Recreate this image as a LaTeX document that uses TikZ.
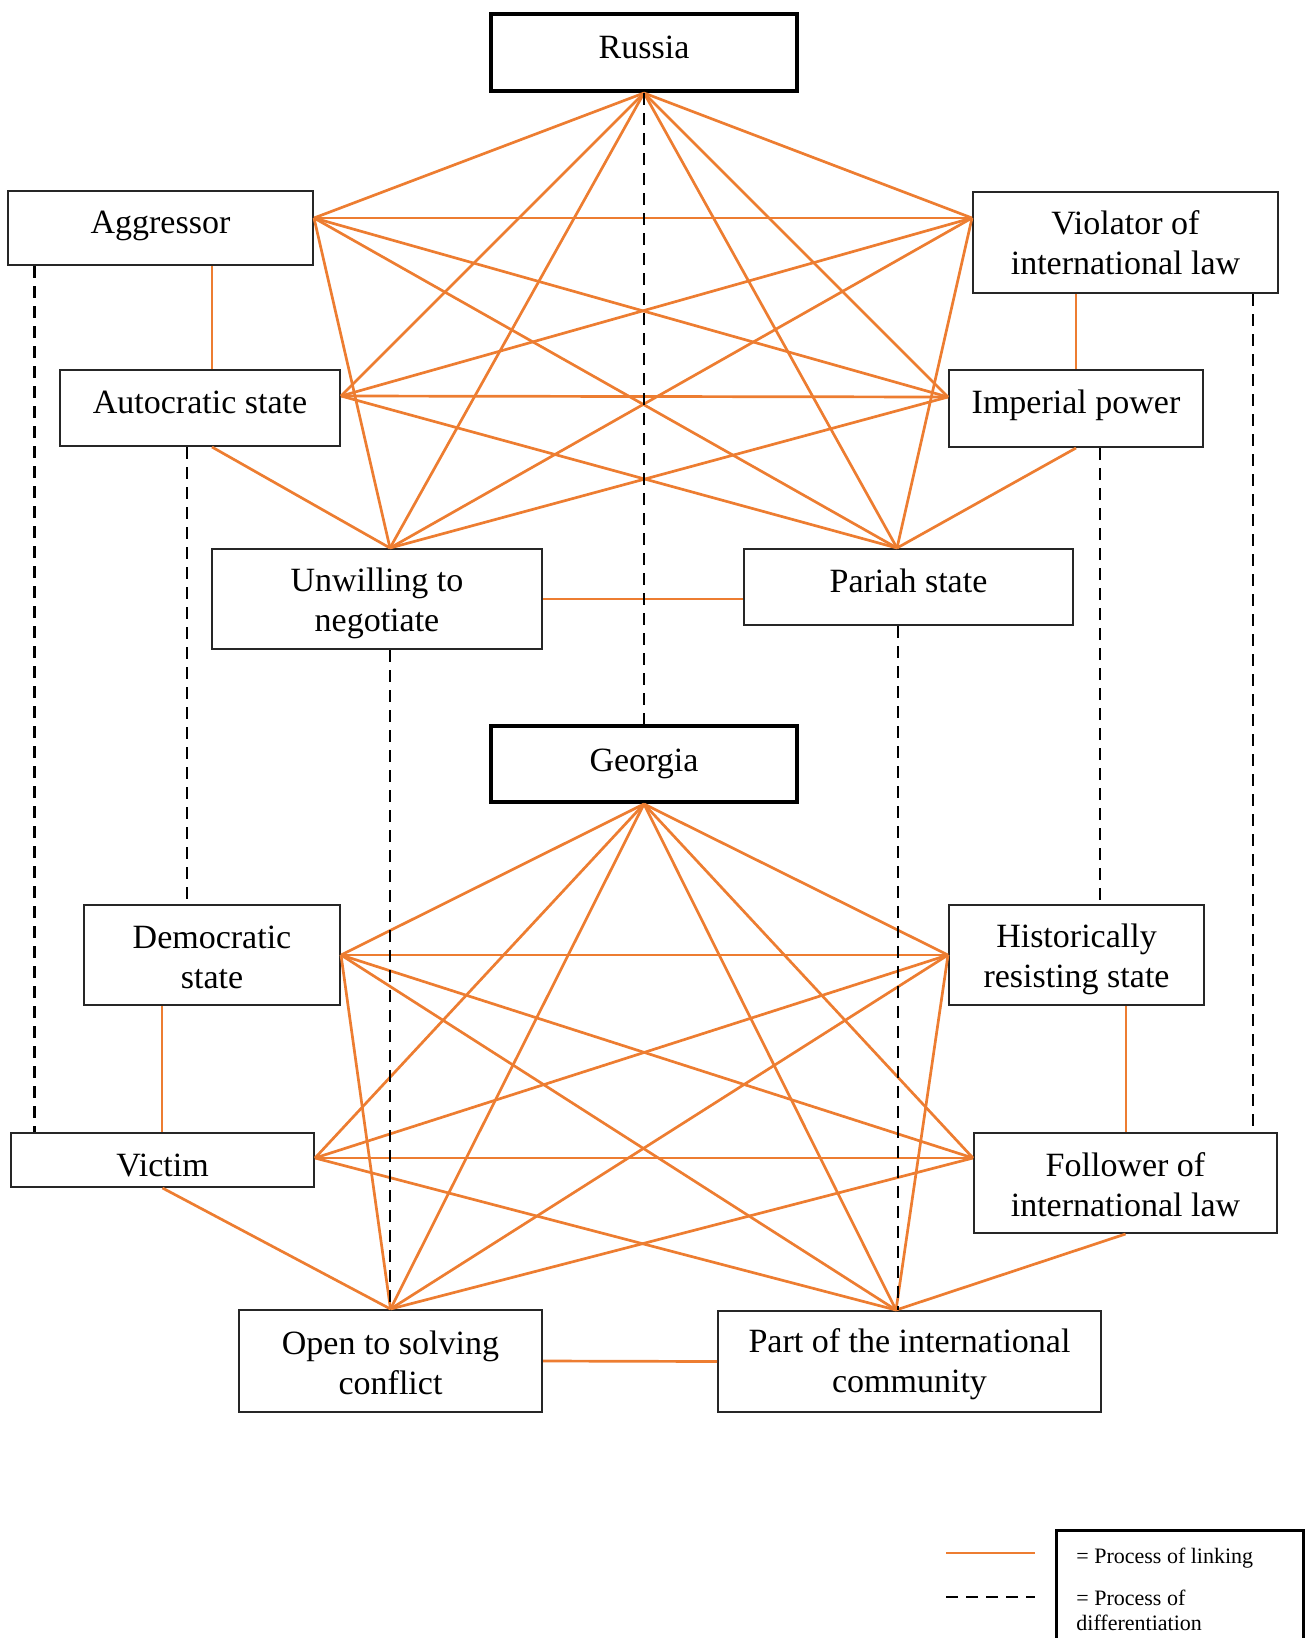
\documentclass[tikz,border=0pt]{standalone}
\usepackage{fontspec}
\setmainfont{Liberation Serif}
\usetikzlibrary{calc}
\definecolor{lnk}{HTML}{ED7D31}
\begin{document}
\begin{tikzpicture}[x=0.5pt,y=-0.5pt,
  box/.style={draw=black!85, line width=1pt, inner sep=0pt},
  thickbox/.style={box, draw=black, line width=2pt},
  txt/.style={inner sep=0pt, align=center, font=\fontsize{17}{20}\selectfont},
  link/.style={draw=lnk, line width=1.35pt},
  diff/.style={draw=black, line width=1.4pt, dash pattern=on 6pt off 4pt},
  legtext/.style={anchor=base west, inner sep=0pt, font=\fontsize{11}{12.5}\selectfont, align=left}
]
\useasboundingbox (0,0) rectangle (1306,1638);

% ---------- Russia cluster ----------
\node[thickbox, minimum width=153pt, minimum height=38.5pt] (R) at (644,52.5) {};
\node[box, minimum width=152.5pt, minimum height=37pt] (Ag) at (160.5,228) {};
\node[box, minimum width=152.5pt, minimum height=50.5pt] (Vi) at (1125.5,242.5) {};
\node[box, minimum width=140pt, minimum height=38pt] (Au) at (200,408) {};
\node[box, minimum width=127pt, minimum height=38.5pt] (Im) at (1076,408.5) {};
\node[box, minimum width=165pt, minimum height=50pt] (Un) at (377,599) {};
\node[box, minimum width=164.5pt, minimum height=38pt] (Pa) at (908.5,587) {};

% ---------- Georgia cluster ----------
\node[thickbox, minimum width=153pt, minimum height=38pt] (Ge) at (644,764) {};
\node[box, minimum width=128pt, minimum height=50pt] (De) at (212,955) {};
\node[box, minimum width=127.5pt, minimum height=50pt] (Hi) at (1076.5,955) {};
\node[box, minimum width=151.5pt, minimum height=27pt] (Vc) at (162.5,1160) {};
\node[box, minimum width=151.5pt, minimum height=50pt] (Fo) at (1125.5,1183) {};
\node[box, minimum width=151.5pt, minimum height=51pt] (Op) at (390.5,1361) {};
\node[box, minimum width=191.5pt, minimum height=50.5pt] (Pt) at (909.5,1361.5) {};

% ---------- texts ----------
\node[txt, yshift=2.6pt] (Rt) at (R) {Russia};
\node[txt, yshift=1pt] (Agt) at (Ag) {Aggressor};
\node[txt] (Vit) at (Vi) {Violator of\\international law};
\node[txt, yshift=2.6pt] (Aut) at (Au) {Autocratic state};
\node[txt, yshift=1.6pt] (Imt) at (Im) {Imperial power};
\node[txt, yshift=-2pt] (Unt) at (Un) {Unwilling to\\negotiate};
\node[txt, yshift=3pt] (Pat) at (Pa) {Pariah state};
\node[txt] (Get) at (Ge) {Georgia};
\node[txt, yshift=-1pt] (Det) at (De) {Democratic\\state};
\node[txt, yshift=-2pt] (Hit) at (Hi) {Historically\\resisting state};
\node[txt, yshift=-2.6pt] (Vct) at (Vc) {Victim};
\node[txt, yshift=-1pt] (Fot) at (Fo) {Follower of\\international law};
\node[txt, yshift=-1pt] (Opt) at (Op) {Open to solving\\conflict};
\node[txt, yshift=-1.5pt] (Ptt) at (Pt) {Part of the international\\community};

% ---------- attachment points ----------
\coordinate (rB) at (R.south);
\coordinate (agR) at ([yshift=5pt]Ag.east);
\coordinate (viL) at ([yshift=12.25pt]Vi.west);
\coordinate (auR) at ([yshift=6pt]Au.east);
\coordinate (imL) at ([yshift=5.75pt]Im.west);
\coordinate (unT) at ([xshift=6.5pt]Un.north);
\coordinate (paT) at ([xshift=-5.75pt]Pa.north);
\coordinate (paL) at ([yshift=-6pt]Pa.west);
\coordinate (agB) at ([xshift=25.75pt]Ag.south);
\coordinate (auB) at ([xshift=6pt]Au.south);
\coordinate (viB) at ([xshift=-24.75pt]Vi.south);
\coordinate (imB) at (Im.south);
\coordinate (agD) at ([xshift=-63pt]Ag.south);
\coordinate (viD) at ([xshift=63.75pt]Vi.south);
\coordinate (auD) at ([xshift=-6.5pt]Au.south);
\coordinate (imD) at ([xshift=12pt]Im.south);
\coordinate (unD) at ([xshift=6.5pt]Un.south);
\coordinate (paD) at ([xshift=-5.25pt]Pa.south);

\coordinate (gB) at (Ge.south);
\coordinate (deR) at (De.east);
\coordinate (hiL) at (Hi.west);
\coordinate (vcR) at ([yshift=1pt]Vc.east);
\coordinate (foL) at ([yshift=12.5pt]Fo.west);
\coordinate (opT) at (Op.north);
\coordinate (ptT) at ([xshift=-6.75pt]Pt.north);
\coordinate (deB) at ([xshift=-25pt]De.south);
\coordinate (hiB) at ([xshift=24.75pt]Hi.south);
\coordinate (vcB) at (Vc.south);
\coordinate (foB) at (Fo.south);

% ---------- linking, Russia ----------
\foreach \a/\b in {rB/agR, rB/viL, rB/auR, rB/imL, rB/unT, rB/paT,
  agR/viL, agR/imL, agR/unT, agR/paT,
  viL/auR, viL/unT, viL/paT,
  auR/imL, auR/paT, imL/unT}
  \draw[link] (\a) -- (\b);
\draw[link] (agB) -- (agB |- Au.north);
\draw[link] (viB) -- (viB |- Im.north);
\draw[link] (auB) -- (unT);
\draw[link] (imB) -- (paT);
\draw[link] (Un.east) -- (paL);

% ---------- linking, Georgia ----------
\foreach \a/\b in {gB/deR, gB/hiL, gB/vcR, gB/foL, gB/opT, gB/ptT,
  deR/hiL, deR/foL, deR/opT, deR/ptT,
  hiL/vcR, hiL/opT, hiL/ptT,
  vcR/foL, vcR/ptT, foL/opT}
  \draw[link] (\a) -- (\b);
\draw[link] (deB) -- (deB |- Vc.north);
\draw[link] (hiB) -- (hiB |- Fo.north);
\draw[link] (vcB) -- (opT);
\draw[link] (foB) -- (ptT);
\draw[link] (Op.east) -- (Pt.west);

% ---------- differentiation ----------
\draw[diff] (rB) -- (Ge.north);
\draw[diff] (agD) -- (agD |- Vc.north);
\draw[diff] (viD) -- (viD |- Fo.north);
\draw[diff] (auD) -- (auD |- De.north);
\draw[diff] (imD) -- (imD |- Hi.north);
\draw[diff] (unD) -- (unD |- Op.north);
\draw[diff] (paD) -- (paD |- Pt.north);

% ---------- legend ----------
\draw[draw=black, line width=1.5pt] (1056,1645) -- (1056,1530) -- (1303.5,1530) -- (1303.5,1645);
\coordinate (l1a) at (946,1553);
\coordinate (l1b) at (1035,1553);
\coordinate (l2a) at (946,1597);
\coordinate (l2b) at (1035,1597);
\draw[link] (l1a) -- (l1b);
\draw[diff] (l2a) -- (l2b);
\node[legtext] (t1) at (1076,1563) {= Process of linking};
\node[legtext] (t2) at (1076,1605) {= Process of};
\node[legtext] (t3) at (1076,1630) {differentiation};
\end{tikzpicture}
\end{document}
